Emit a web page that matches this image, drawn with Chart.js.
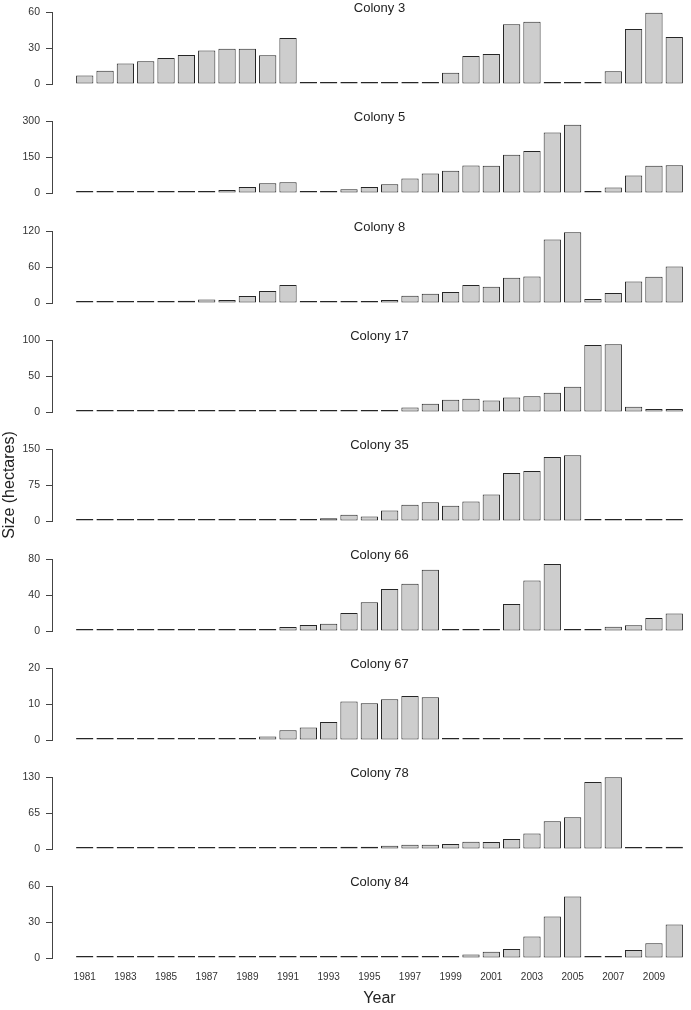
<!DOCTYPE html>
<html>
<head>
<meta charset="utf-8">
<script src="https://cdn.jsdelivr.net/npm/chart.js@4.4.1/dist/chart.umd.min.js"></script>
<style>
html, body { margin: 0; padding: 0; background: #fff; overflow: hidden; }
#wrap { position: relative; width: 691px; height: 1010px; overflow: hidden; background: #fff; }
#wrap canvas { position: absolute; left: 0; }
</style>
</head>
<body>
<div id="wrap"></div>
<script>
const years = [1981, 1982, 1983, 1984, 1985, 1986, 1987, 1988, 1989, 1990,
	1991, 1992, 1993, 1994, 1995, 1996, 1997, 1998, 1999, 2000,
	2001, 2002, 2003, 2004, 2005, 2006, 2007, 2008, 2009, 2010];
const tickYears = [1981, 1983, 1985, 1987, 1989, 1991, 1993, 1995, 1997, 1999, 2001, 2003, 2005, 2007, 2009];

const colonyNames = ['Colony 3', 'Colony 5', 'Colony 8', 'Colony 17', 'Colony 35', 'Colony 66', 'Colony 67', 'Colony 78', 'Colony 84'];
const yMax = [60, 300, 120, 100, 150, 80, 20, 130, 60];

const colony3 = [7, 11, 17, 19, 21.7, 24.2, 28, 29.4, 29.4, 24, 38.3, 0, 0, 0, 0, 0, 0, 0, 9.4, 23.3, 25, 49.7, 51.9, 0, 0, 0, 10.6, 45.8, 59.4, 39.2];
const colony5 = [1, 1, 1, 1, 1, 7, 6, 12, 25, 41, 45, 1, 5, 16, 25, 36, 60, 81, 93, 115, 114, 159, 175, 252, 284, 7, 23, 73, 114, 116];
const colony8 = [2.2, 3.3, 0.5, 1.1, 3.3, 3.9, 6, 5, 11.6, 19.9, 29.8, 0.5, 1, 1.7, 2.5, 5, 12.2, 15.5, 18.2, 29.8, 27, 42, 44, 106, 118, 6.6, 16.6, 36, 43.6, 60.8];
const colony17 = [0, 0, 0, 0, 0, 0, 0, 0, 0, 0, 0, 0, 0, 0, 0, 0, 6.4, 11.5, 17, 18.3, 16, 20, 22, 26.6, 34.9, 93, 94, 7.3, 4, 4];
const colony35 = [0, 0, 0, 0, 0, 0, 0, 0, 0, 0, 0, 0, 5.5, 13, 9.6, 22, 33.7, 39, 31.7, 40.6, 55, 99.8, 104, 133.5, 137, 0.5, 1.5, 0.5, 1.2, 2];
const colony66 = [0, 0, 0, 0, 0, 0, 0, 0.8, 1, 1, 4.4, 6.6, 8, 20, 32, 46.6, 52.5, 68, 0, 1, 2, 30, 56, 74.5, 0, 0, 4.6, 6.5, 14.5, 19.4];
const colony67 = [0, 0, 0, 0, 0, 0, 0, 0, 0, 1, 2.7, 3.5, 5, 10.7, 10.2, 11.3, 12.2, 11.9, 0, 0, 0, 0, 0, 0, 0, 0, 0, 0, 0, 0];
const colony78 = [0, 0, 0, 0, 0, 0, 0, 0, 0, 0, 0, 0, 1, 4.2, 4.2, 6, 7.8, 7.8, 9, 13, 12.6, 18, 28, 50, 57.5, 121, 129.4, 2.4, 2.4, 4.2];
const colony84 = [0, 0, 0, 0, 0, 0, 0, 0, 0, 0, 0, 0, 0, 0, 0, 0, 0, 0, 0, 3, 5.3, 7.5, 18, 34.6, 51.2, 0.5, 1, 6.6, 12.2, 28];

const colonySeries = [colony3, colony5, colony8, colony17, colony35, colony66, colony67, colony78, colony84];

Chart.defaults.font.family = '"Liberation Sans", Arial, Helvetica, sans-serif';
Chart.defaults.color = '#333';

const PANEL_STEP = 109.3;
const CANVAS_W = 707;
const EXTRA = 25; // canvases overlap so the long y title is not cut off

function panelMake(idx) {
	const isLast = idx === colonySeries.length - 1;
	const top = Math.round(PANEL_STEP * idx) - EXTRA;
	const height = isLast ? 1010 - top : 110 + 2 * EXTRA;

	const canvas = document.createElement('canvas');
	canvas.id = 'panel' + idx;
	canvas.width = CANVAS_W;
	canvas.height = height;
	canvas.style.top = top + 'px';
	canvas.style.width = CANVAS_W + 'px';
	canvas.style.height = height + 'px';
	document.getElementById('wrap').appendChild(canvas);

	return new Chart(canvas, {
		type: 'bar',
		data: {
			labels: years,
			datasets: [{
				data: colonySeries[idx],
				backgroundColor: '#cdcdcd',
				borderColor: '#262626',
				borderWidth: 1,
				borderSkipped: false,
				minBarLength: 2,
				barPercentage: 0.85,
				categoryPercentage: 1,
				clip: false
			}]
		},
		options: {
			responsive: false,
			animation: false,
			devicePixelRatio: 1,
			layout: { padding: { top: 1 + EXTRA, left: 0, right: 0, bottom: isLast ? 0 : 26 + EXTRA } },
			plugins: {
				legend: { display: false },
				tooltip: { enabled: false },
				title: {
					display: true,
					text: colonyNames[idx],
					fullSize: false,
					color: '#222',
					font: { size: 13, weight: 'normal' },
					padding: { top: 0, bottom: -4.6 }
				}
			},
			scales: {
				x: {
					type: 'linear',
					min: 1979.39,
					max: 2011.61,
					offset: false,
					display: isLast,
					grid: { display: false, drawTicks: false },
					border: { display: false },
					afterBuildTicks: function(scale) {
						scale.ticks = tickYears.map(function(v) { return { value: v }; });
					},
					afterFit: function(scale) {
						if (isLast) {
							scale.height = height - EXTRA - 84;
						}
					},
					ticks: {
						autoSkip: false,
						maxRotation: 0,
						padding: 13.5,
						color: '#333',
						font: { size: 10 },
						callback: function(value) { return String(value); }
					},
					title: {
						display: isLast,
						text: 'Year',
						color: '#222',
						font: { size: 16 },
						padding: { top: 0, bottom: 2 }
					}
				},
				y: {
					min: 0,
					max: yMax[idx],
					afterFit: function(scale) {
						scale.width = 52;
					},
					ticks: {
						stepSize: yMax[idx] / 2,
						padding: 6,
						color: '#333',
						font: { size: 10.5 }
					},
					grid: {
						drawOnChartArea: false,
						drawTicks: true,
						tickLength: 6,
						color: '#444'
					},
					border: { display: true, color: '#444', width: 1 },
					title: {
						display: idx === 4,
						text: 'Size (hectares)',
						color: '#222',
						font: { size: 16 },
						padding: { top: 0, bottom: 0 }
					}
				}
			}
		}
	});
}

for (let i = 0; i < colonySeries.length; i++) {
	panelMake(i);
}
</script>
</body>
</html>
